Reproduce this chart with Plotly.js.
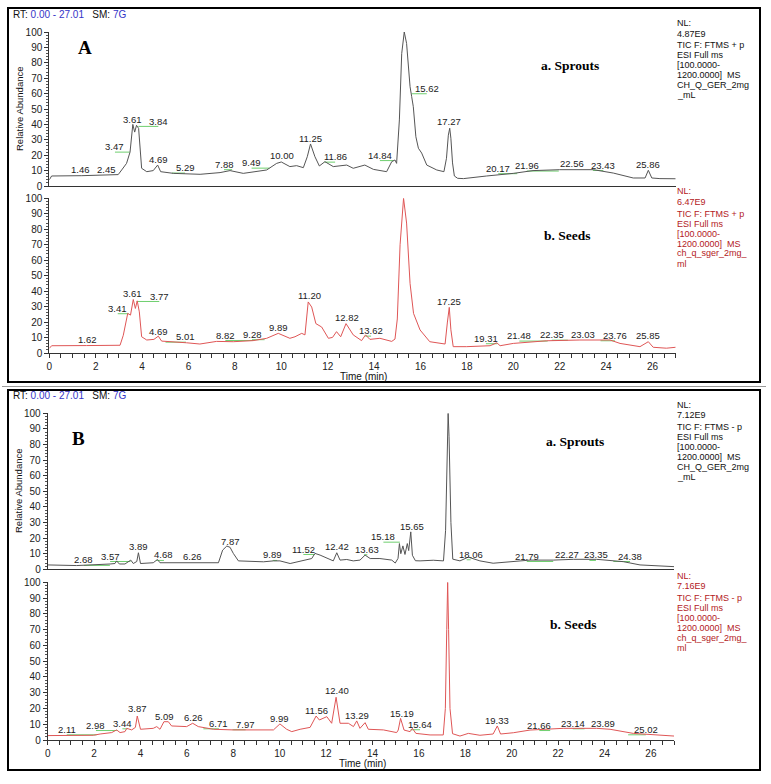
<!DOCTYPE html>
<html>
<head>
<meta charset="utf-8">
<script src="https://cdn.plot.ly/plotly-3.0.1.min.js"></script>
<style>
html, body { margin: 0; padding: 0; background: #fff; }
#chart { width: 771px; height: 784px; }
</style>
</head>
<body>
<div id="chart"></div>
<script>
// ---- chromatogram A (positive mode) ----
var aSproutsTime = [0, 0.1, 1.4, 2.5, 2.97, 3.12, 3.33, 3.48, 3.6, 3.68,
  3.76, 3.85, 3.9, 3.98, 4.2, 4.48, 4.67, 4.8, 5.35, 6.5,
  7.36, 7.79, 8.36, 9.37, 9.8, 10.0, 10.37, 10.66, 10.95, 11.12,
  11.26, 11.45, 11.64, 11.88, 12.24, 12.82, 13.1, 13.6, 13.97, 14.54,
  14.76, 14.9, 14.97, 15.09, 15.19, 15.3, 15.4, 15.55, 15.62, 15.69,
  15.8, 15.91, 16.05, 16.27, 16.7, 17.01, 17.12, 17.2, 17.26, 17.31,
  17.38, 17.46, 17.6, 17.85, 18.85, 20.0, 20.85, 22.0, 23.45, 24.31,
  25.17, 25.68, 25.82, 25.97, 26.32, 27.0];
var aSproutsAbund = [4, 6.5, 6.7, 7, 7.4, 10.4, 14.7, 22, 40, 35,
  39.4, 37.4, 25.5, 11.5, 9.3, 10, 13.6, 9.3, 8.2, 7.6,
  8.7, 10, 8.2, 10.4, 14.7, 15.6, 12.6, 13.2, 11.9, 19,
  27.3, 19, 13, 15.8, 12.6, 13.6, 11.5, 13.6, 10.8, 9.3,
  15.8, 16.9, 14.7, 42.9, 86, 100, 92.6, 64.5, 58, 51.5,
  32, 24.5, 21.4, 13.6, 10.4, 9.3, 18, 33, 37.5, 31,
  15, 6.5, 5, 4.8, 6.5, 8.2, 10, 10.6, 10.6, 8.4,
  5.2, 5.2, 10.2, 5.2, 4.8, 4.7];

var aSeedsTime = [0, 0.1, 1.6, 3.05, 3.19, 3.38, 3.5, 3.62, 3.71, 3.79,
  3.88, 3.98, 4.2, 4.51, 4.7, 4.84, 5.92, 6.49, 7.21, 7.93,
  8.79, 9.37, 9.87, 10.37, 10.59, 10.88, 11.02, 11.16, 11.31, 11.49,
  11.74, 12.03, 12.21, 12.38, 12.56, 12.79, 13.1, 13.46, 13.63, 13.82,
  14.25, 14.76, 14.9, 15.0, 15.12, 15.27, 15.4, 15.55, 15.7, 15.98,
  16.4, 17.06, 17.16, 17.24, 17.31, 17.41, 17.99, 19.0, 19.29, 19.43,
  20.0, 21.44, 22.87, 24.17, 24.6, 25.46, 25.82, 26.03, 26.6, 27.0];
var aSeedsAbund = [3, 4.7, 4.8, 5, 11.5, 25.6, 24.5, 34.6, 28.8, 33.7,
  26.6, 10.5, 8.4, 8.8, 10.9, 7.7, 6.6, 5.8, 7.5, 7.3,
  8, 9.5, 12.7, 9.5, 10.5, 12.7, 11.7, 33, 29.7, 19,
  16.8, 9.5, 10.1, 13.8, 10.5, 19, 11.7, 8, 11.7, 8.8,
  9.5, 7.5, 9, 22, 70, 100, 84, 45, 25.6, 14.9,
  7.3, 5.8, 20, 29.5, 15, 4.1, 4.1, 4.7, 6.6, 4.7,
  6.2, 7.9, 8.4, 8.4, 6.2, 4.1, 7.3, 3.7, 3.1, 3.7];

// ---- chromatogram B (negative mode) ----
var bSproutsTime = [0, 1.25, 2.69, 2.9, 2.97, 3.09, 3.33, 3.58, 3.69, 3.84,
  3.91, 4.0, 4.55, 4.73, 4.84, 5.85, 7.36, 7.54, 7.72, 7.86,
  8.0, 8.22, 9.3, 9.73, 10.01, 10.45, 11.02, 11.38, 11.52, 11.74,
  12.31, 12.46, 12.6, 12.89, 13.17, 13.46, 13.68, 13.9, 14.32, 14.83,
  14.98, 15.1, 15.16, 15.22, 15.31, 15.4, 15.5, 15.56, 15.65, 15.72,
  15.85, 16.05, 16.62, 17.06, 17.15, 17.22, 17.26, 17.3, 17.38, 17.46,
  17.77, 18.13, 18.63, 19.2, 20.07, 20.79, 21.79, 22.66, 23.66, 24.81,
  25.53, 27.0];
var bSproutsAbund = [2.8, 2.4, 3.4, 3.7, 5.4, 3.4, 3.4, 5.9, 3.7, 5,
  10.6, 3.7, 4.2, 6.3, 4.2, 4.2, 4.2, 12.3, 14.9, 14.1,
  10.2, 5.4, 4.8, 5.4, 5.4, 3.7, 5.4, 6.9, 10.2, 9.1,
  5.4, 10.6, 5.9, 6.3, 5.4, 5.9, 9.1, 6.9, 6.9, 5.9,
  4, 7, 16.5, 10, 15, 9.5, 16.5, 12, 24, 9,
  5.5, 5.4, 5.8, 5.4, 25, 80, 100, 85, 30, 6.5,
  5.4, 7.8, 5.4, 3.9, 4.9, 5.9, 5.9, 6.4, 6.4, 4.9,
  2.8, 1.7];

var bSeedsTime = [0, 1.97, 2.26, 2.76, 2.97, 3.12, 3.33, 3.41, 3.62, 3.78,
  3.86, 4.0, 4.55, 4.7, 4.84, 5.01, 5.2, 5.34, 5.99, 6.25,
  6.49, 7.14, 8.0, 8.43, 9.73, 10.01, 10.3, 10.52, 10.88, 11.31,
  11.57, 11.71, 12.03, 12.24, 12.43, 12.6, 12.96, 13.18, 13.32, 13.46,
  13.68, 13.82, 14.47, 15.04, 15.11, 15.21, 15.36, 15.62, 15.72, 15.87,
  16.48, 17.05, 17.14, 17.2, 17.24, 17.28, 17.34, 17.45, 17.77, 18.13,
  18.63, 19.2, 19.38, 19.52, 20.07, 20.79, 22.22, 23.66, 24.24, 25.24,
  26.25, 27.0];
var bSeedsAbund = [2.8, 3, 3.8, 4.7, 6.4, 4.7, 5.3, 7.4, 6.4, 8,
  15.2, 6.8, 7.4, 8.5, 6.8, 11.6, 11.6, 8.9, 8.5, 10.6,
  8.5, 6.8, 6.4, 6.4, 6.4, 10.2, 6.8, 5.3, 6.8, 8.0,
  15.2, 12.7, 14.8, 10.6, 27.1, 10.6, 10.6, 8.5, 12.1, 7.4,
  11, 6.8, 6.4, 4.7, 6.3, 13.7, 6.3, 5.3, 7.4, 4.2,
  3.2, 3.2, 20, 70, 100, 70, 20, 4, 2.5, 4.2,
  3, 3.8, 8.9, 3.8, 4.6, 6.3, 7.4, 7.4, 6.8, 4.2,
  3, 2.5];

// ---- peak labels (text, label centre time, label centre abundance) ----
var aSproutsPeaks = ['1.46','2.45','3.47','3.61','3.84','4.69','5.29','7.88','9.49','10.00','11.25',
  '11.86','14.84','15.31','15.62','17.27','20.17','21.96','22.56','23.43','25.86'];
var aSproutsPeakX = [1.35, 2.47, 2.83, 3.6, 4.7, 4.7, 5.85, 7.53, 8.72, 10.02, 11.27,
  12.32, 14.25, 15.29, 16.27, 17.24, 19.35, 20.58, 22.52, 23.88, 25.82];
var aSproutsPeakY = [10.4, 10.4, 25.5, 43.5, 42.2, 16.9, 11.9, 14.1, 15.1, 19.5, 31,
  19, 20, 104.5, 63.4, 41.8, 11.5, 13.2, 14.7, 13.6, 14.1];

var aSeedsPeaks = ['1.62','3.41','3.61','3.77','4.69','5.01','8.82','9.28','9.89','11.20',
  '12.82','13.62','15.27','17.25','19.31','21.48','22.35','23.03','23.76','25.85'];
var aSeedsPeakX = [1.64, 2.95, 3.59, 4.74, 4.7, 5.89, 7.59, 8.74, 9.89, 11.21,
  12.82, 13.87, 15.26, 17.24, 18.82, 20.26, 21.66, 23.02, 24.38, 25.82];
var aSeedsPeakY = [8.8, 28.9, 38.3, 36.8, 13.8, 10.5, 11.6, 12.1, 16.4, 37,
  23, 14.4, 103.6, 33.2, 9.5, 11.2, 11.8, 12.1, 11.4, 11.2];

var bSproutsPeaks = ['2.68','3.57','3.89','4.68','6.26','7.87','9.89','11.52','12.42',
  '13.63','15.18','15.65','17.26','18.06','21.79','22.27','23.35','24.38'];
var bSproutsPeakX = [1.56, 2.69, 3.91, 5.01, 6.25, 7.86, 9.7, 11.02, 12.46,
  13.78, 14.47, 15.69, 17.31, 18.23, 20.65, 22.37, 23.63, 25.1];
var bSproutsPeakY = [6, 8.5, 14.5, 9.2, 8.1, 17.7, 9.2, 13, 14.9,
  12.8, 20.9, 27.3, 104.2, 9.6, 8.5, 9.6, 9.2, 8.5];

var bSeedsPeaks = ['2.11','2.98','3.44','3.87','5.09','6.26','6.71','7.97','9.99','11.56',
  '12.40','13.29','15.19','15.64','17.24','19.33','21.66','23.14','23.89','25.02'];
var bSeedsPeakX = [0.82, 2.08, 3.22, 3.86, 5.03, 6.28, 7.38, 8.53, 10.01, 11.59,
  12.46, 13.34, 15.26, 16.05, 17.31, 19.38, 21.19, 22.63, 23.95, 25.78];
var bSeedsPeakY = [6.8, 9.5, 10.6, 19.7, 15.2, 14.4, 10.6, 10, 13.8, 19,
  31.1, 15.4, 16.9, 10, 104.1, 12.1, 9.5, 10.6, 10.6, 6.8];

// ---- instrument header text ----
var aSproutsInfo = ['NL:', '4.87E9', 'TIC F: FTMS + p', 'ESI Full ms', '[100.0000-', '1200.0000]\u00a0 MS', 'CH_Q_GER_2mg', '_mL'];
var aSeedsInfo = ['NL:', '6.47E9', 'TIC F: FTMS + p', 'ESI Full ms', '[100.0000-', '1200.0000]\u00a0 MS', 'ch_q_sger_2mg_', 'ml'];
var bSproutsInfo = ['NL:', '7.12E9', 'TIC F: FTMS - p', 'ESI Full ms', '[100.0000-', '1200.0000]\u00a0 MS', 'CH_Q_GER_2mg', '_mL'];
var bSeedsInfo = ['NL:', '7.16E9', 'TIC F: FTMS - p', 'ESI Full ms', '[100.0000-', '1200.0000]\u00a0 MS', 'ch_q_sger_2mg_', 'ml'];

var W = 771, H = 784;
function px(x) { return x / W; }
function py(y) { return 1 - y / H; }

var SANS = 'Liberation Sans, Arial, sans-serif';
var SERIF = 'Liberation Serif, Times New Roman, serif';
var GREY = '#555555', RED = '#df5656', DARKRED = '#b3191d', GREEN = '#6fcf6f', BLUE = '#3535c8';

function chrom(t, v, color, ax) {
  return {x: t, y: v, type: 'scatter', mode: 'lines', xaxis: 'x' + ax, yaxis: 'y' + ax,
    line: {color: color, width: 1}, cliponaxis: false, hoverinfo: 'skip', showlegend: false};
}

// green marker lines from peak to its (shifted) label
function greenMarks(texts, lx, ly, ax) {
  var xs = [], ys = [];
  for (var i = 0; i < texts.length; i++) {
    var rt = parseFloat(texts[i]);
    if (Math.abs(rt - lx[i]) > 0.12) {
      xs.push(rt, lx[i], null);
      ys.push(ly[i] - 3.5, ly[i] - 3.5, null);
    }
  }
  return {x: xs, y: ys, type: 'scatter', mode: 'lines', xaxis: 'x' + ax, yaxis: 'y' + ax,
    line: {color: GREEN, width: 1}, hoverinfo: 'skip', showlegend: false, connectgaps: false};
}

var data = [
  greenMarks(aSproutsPeaks, aSproutsPeakX, aSproutsPeakY, ''),
  greenMarks(aSeedsPeaks, aSeedsPeakX, aSeedsPeakY, '2'),
  greenMarks(bSproutsPeaks, bSproutsPeakX, bSproutsPeakY, '3'),
  greenMarks(bSeedsPeaks, bSeedsPeakX, bSeedsPeakY, '4'),
  chrom(aSproutsTime, aSproutsAbund, GREY, ''),
  chrom(aSeedsTime, aSeedsAbund, RED, '2'),
  chrom(bSproutsTime, bSproutsAbund, GREY, '3'),
  chrom(bSeedsTime, bSeedsAbund, RED, '4')
];

var annotations = [];
function peakLabels(texts, lx, ly, ax) {
  for (var i = 0; i < texts.length; i++) {
    annotations.push({text: texts[i], x: lx[i], y: ly[i], xref: 'x' + ax, yref: 'y' + ax,
      showarrow: false, xanchor: 'center', yanchor: 'middle',
      font: {family: SANS, size: 9.5, color: '#222'}});
  }
}
peakLabels(aSproutsPeaks, aSproutsPeakX, aSproutsPeakY, '');
peakLabels(aSeedsPeaks, aSeedsPeakX, aSeedsPeakY, '2');
peakLabels(bSproutsPeaks, bSproutsPeakX, bSproutsPeakY, '3');
peakLabels(bSeedsPeaks, bSeedsPeakX, bSeedsPeakY, '4');

function paperText(text, x, y, font, extra) {
  var a = {text: text, x: px(x), y: py(y), xref: 'paper', yref: 'paper', showarrow: false,
    xanchor: 'center', yanchor: 'middle', font: font};
  for (var k in extra) a[k] = extra[k];
  annotations.push(a);
}
function infoBlock(lines, x, y0, color) {
  var offs = [0, 10.5, 22, 32, 42, 52, 62, 72];
  lines.forEach(function (s, i) {
    paperText(s, x, y0 + offs[i], {family: SANS, size: 9, color: color}, {xanchor: 'left'});
  });
}
infoBlock(aSproutsInfo, 675, 23, '#111');
infoBlock(aSeedsInfo, 675, 191.5, DARKRED);
infoBlock(bSproutsInfo, 675, 405, '#111');
infoBlock(bSeedsInfo, 675, 575.5, DARKRED);

var rtText = 'RT:\u00a0<span style="color:' + BLUE + '">0.00 - 27.01</span>\u00a0\u00a0\u00a0SM:\u00a0<span style="color:' + BLUE + '">7G</span>';
paperText(rtText, 11, 15, {family: SANS, size: 10, color: '#111'}, {xanchor: 'left'});
paperText(rtText, 11, 396, {family: SANS, size: 10, color: '#111'}, {xanchor: 'left'});

paperText('<b>A</b>', 85, 48, {family: SERIF, size: 19, color: '#000'});
paperText('<b>B</b>', 78, 438, {family: SERIF, size: 19, color: '#000'});
paperText('<b>a. Sprouts</b>', 570, 65, {family: SERIF, size: 13.5, color: '#000'});
paperText('<b>b. Seeds</b>', 567, 235, {family: SERIF, size: 13.5, color: '#000'});
paperText('<b>a. Sprouts</b>', 575, 441, {family: SERIF, size: 13.5, color: '#000'});
paperText('<b>b. Seeds</b>', 573, 624, {family: SERIF, size: 13.5, color: '#000'});

paperText('Relative Abundance', 19, 109, {family: SANS, size: 9.5, color: '#111'}, {textangle: -90});
paperText('Relative Abundance', 18, 491, {family: SANS, size: 9.5, color: '#111'}, {textangle: -90});
paperText('Time (min)', 363, 376.5, {family: SANS, size: 10, color: '#111'});
paperText('Time (min)', 362, 763.5, {family: SANS, size: 10, color: '#111'});

function xAxis(domain, anchor, bottom) {
  return {domain: domain, anchor: anchor, range: [0, 27], showgrid: false, zeroline: false,
    showline: true, linecolor: '#333', linewidth: 1, fixedrange: true,
    ticks: bottom ? 'outside' : '', ticklen: 4, tickcolor: '#333', tick0: 0, dtick: 2,
    showticklabels: bottom, tickfont: {family: SANS, size: 10, color: '#222'},
    minor: bottom ? {ticks: 'outside', dtick: 0.5, ticklen: 4, tickcolor: '#333'} : {ticks: ''}};
}
function yAxis(domain, anchor) {
  return {domain: domain, anchor: anchor, range: [0, 100], showgrid: false, zeroline: false,
    showline: true, linecolor: '#333', linewidth: 1, fixedrange: true,
    ticks: 'outside', ticklen: 4, tickcolor: '#333', tick0: 0, dtick: 10,
    tickfont: {family: SANS, size: 10, color: '#222'},
    minor: {ticks: 'outside', dtick: 2, ticklen: 2, tickcolor: '#555'}};
}

var xA = [px(49.3), px(675.7)], xB = [px(47.7), px(674.1)];

var layout = {
  width: W, height: H,
  margin: {l: 0, r: 0, t: 0, b: 0},
  paper_bgcolor: '#fff', plot_bgcolor: 'rgba(0,0,0,0)',
  showlegend: false,
  xaxis: xAxis(xA, 'y', false),
  yaxis: yAxis([py(186), py(32)], 'x'),
  xaxis2: xAxis(xA, 'y2', true),
  yaxis2: yAxis([py(353), py(198.3)], 'x2'),
  xaxis3: xAxis(xB, 'y3', false),
  yaxis3: yAxis([py(569.3), py(413.3)], 'x3'),
  xaxis4: xAxis(xB, 'y4', true),
  yaxis4: yAxis([py(740), py(582.3)], 'x4'),
  annotations: annotations,
  shapes: [
    {type: 'rect', xref: 'paper', yref: 'paper', x0: px(8), x1: px(760), y0: py(382), y1: py(8),
      line: {color: '#000', width: 2}},
    {type: 'rect', xref: 'paper', yref: 'paper', x0: px(8), x1: px(760), y0: py(770), y1: py(390),
      line: {color: '#000', width: 2}},
    {type: 'line', xref: 'paper', yref: 'paper', x0: px(2), x1: px(766), y0: py(386.5), y1: py(386.5),
      line: {color: '#999', width: 1}}
  ]
};

Plotly.newPlot('chart', data, layout, {staticPlot: true, displayModeBar: false});
</script>
</body>
</html>
